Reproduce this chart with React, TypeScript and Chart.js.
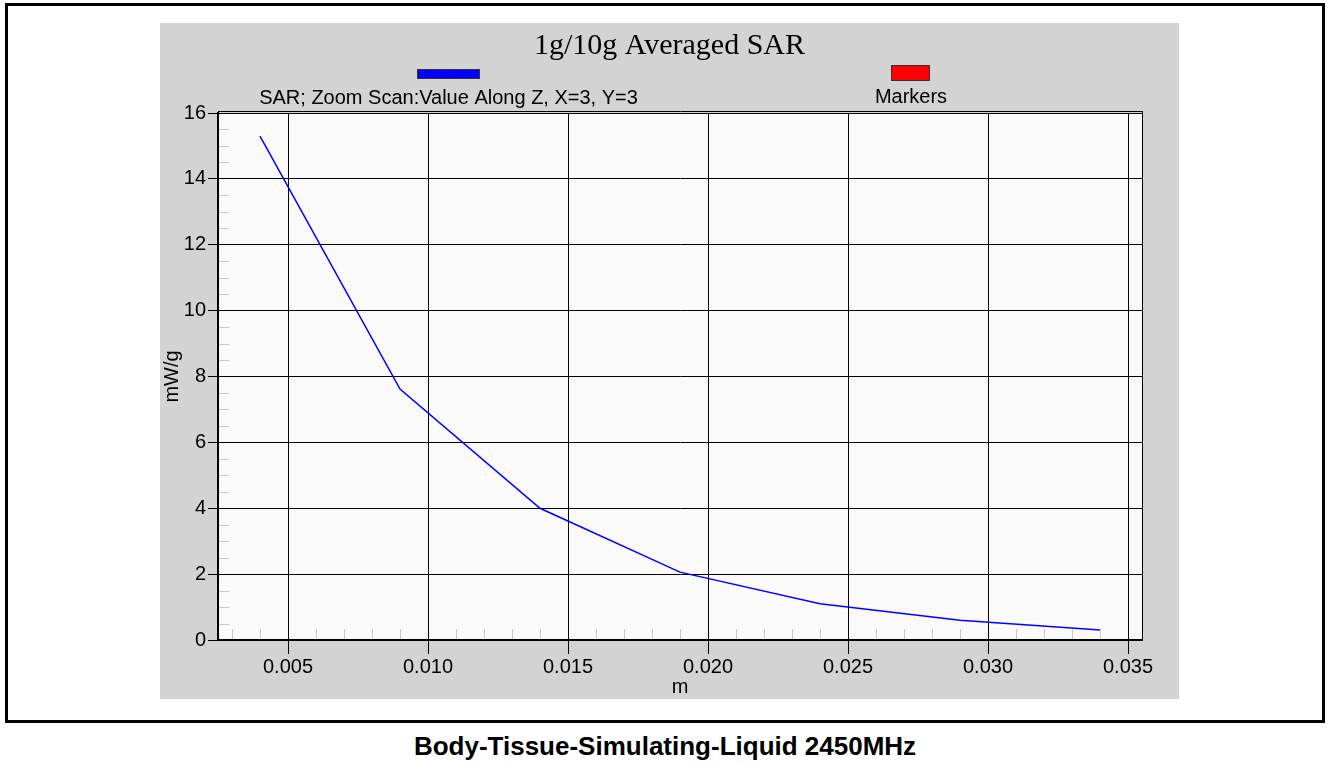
import React, { useEffect, useRef } from "react";
import { Chart, registerables } from "chart.js";

Chart.register(...registerables);

// ---- data ----
const depthValues = [0.004, 0.009, 0.014, 0.019, 0.024, 0.029, 0.034];
const sarValues = [15.3, 7.62, 4.0, 2.06, 1.1, 0.6, 0.3];
const xTickValues = [0.005, 0.01, 0.015, 0.02, 0.025, 0.03, 0.035];
const yTickValues = [0, 2, 4, 6, 8, 10, 12, 14, 16];
const chartTitle = "1g/10g Averaged SAR";
const seriesLabel = "SAR; Zoom Scan:Value Along Z, X=3, Y=3";
const markersLabel = "Markers";
const xAxisTitle = "m";
const yAxisTitle = "mW/g";
const caption = "Body-Tissue-Simulating-Liquid 2450MHz";

const SANS = "'Liberation Sans', Arial, sans-serif";
const SERIF = "'Liberation Serif', 'Times New Roman', serif";

const decorPlugin = {
  id: "decor",
  beforeDraw(chart: any) {
    const { ctx, width, height, chartArea: a } = chart;
    ctx.save();
    ctx.fillStyle = "#d3d3d3";
    ctx.fillRect(0, 0, width, height);
    ctx.fillStyle = "#fafafa";
    ctx.fillRect(a.left, a.top, a.right - a.left, a.bottom - a.top);
    ctx.restore();
  },
  beforeDatasetsDraw(chart: any) {
    const { ctx, chartArea: a } = chart;
    const xs = chart.scales.x;
    const ys = chart.scales.y;
    ctx.save();
    ctx.strokeStyle = "#c8c8c8";
    ctx.lineWidth = 1;
    ctx.beginPath();
    for (let i = 1; i < 1000; i++) {
      const v = i * 0.001;
      if (v > xs.max) break;
      if (v < xs.min || i % 5 === 0) continue;
      const px = Math.round(xs.getPixelForValue(v)) + 0.5;
      ctx.moveTo(px, a.bottom - 1);
      ctx.lineTo(px, a.bottom - 11);
    }
    for (let i = 1; i < 1000; i++) {
      const v = i * 0.5;
      if (v >= ys.max) break;
      if (i % 4 === 0) continue;
      const py = Math.round(ys.getPixelForValue(v)) + 0.5;
      ctx.moveTo(a.left + 1, py);
      ctx.lineTo(a.left + 11, py);
    }
    ctx.stroke();
    ctx.restore();
  },
  afterDraw(chart: any) {
    const { ctx, width, chartArea: a } = chart;
    ctx.save();
    // top / right frame
    ctx.strokeStyle = "#000";
    ctx.lineWidth = 1;
    ctx.beginPath();
    ctx.moveTo(a.left, Math.round(a.top) - 1.5);
    ctx.lineTo(a.right + 1, Math.round(a.top) - 1.5);
    ctx.moveTo(a.left, Math.round(a.top) + 0.5);
    ctx.lineTo(a.right + 1, Math.round(a.top) + 0.5);
    ctx.moveTo(Math.round(a.right) + 0.5, a.top - 2);
    ctx.lineTo(Math.round(a.right) + 0.5, a.bottom);
    ctx.stroke();

    // title
    ctx.fillStyle = "#000";
    ctx.font = `30px ${SERIF}`;
    ctx.textAlign = "center";
    ctx.textBaseline = "alphabetic";
    ctx.fillText(chartTitle, width / 2, 31);

    // legend
    ctx.fillStyle = "#0000ff";
    ctx.fillRect(257, 46, 63, 10);
    ctx.strokeStyle = "#333";
    ctx.strokeRect(257.5, 46.5, 62, 9);
    ctx.fillStyle = "#ff0000";
    ctx.fillRect(731, 42, 39, 16);
    ctx.strokeRect(731.5, 42.5, 38, 15);

    ctx.fillStyle = "#000";
    ctx.font = `20px ${SANS}`;
    ctx.fillText(seriesLabel, 288.5, 81);
    ctx.fillText(markersLabel, 751, 80);
    ctx.restore();
  },
};

export default function App() {
  const ref = useRef<HTMLCanvasElement>(null);

  useEffect(() => {
    const chart = new Chart(ref.current as HTMLCanvasElement, {
      type: "line",
      data: {
        datasets: [
          {
            label: seriesLabel,
            data: depthValues.map((x, i) => ({ x, y: sarValues[i] })),
            borderColor: "#0000ff",
            borderWidth: 1.5,
            pointRadius: 0,
            tension: 0,
            fill: false,
          },
        ],
      },
      options: {
        responsive: false,
        animation: false,
        devicePixelRatio: 1,
        layout: { padding: { top: 90, right: 37, left: 0, bottom: 0 } },
        plugins: {
          legend: { display: false },
          title: { display: false },
          tooltip: { enabled: false },
        },
        scales: {
          x: {
            type: "linear",
            min: 0.0025,
            max: 0.0355,
            afterBuildTicks: (s: any) => {
              s.ticks = xTickValues.map((v) => ({ value: v }));
            },
            afterFit: (s: any) => {
              s.height = 59;
            },
            ticks: {
              color: "#000",
              font: { family: SANS, size: 20 },
              padding: 1,
              maxRotation: 0,
              autoSkip: false,
              callback: (v: any) => Number(v).toFixed(3),
            },
            grid: { color: "#000", lineWidth: 1, tickLength: 14, tickColor: "#000" },
            border: { display: true, color: "#000", width: 2 },
            title: {
              display: true,
              text: xAxisTitle,
              color: "#000",
              font: { family: SANS, size: 20 },
              padding: { top: -2, bottom: 0 },
            },
          },
          y: {
            type: "linear",
            min: 0,
            max: 16,
            afterBuildTicks: (s: any) => {
              s.ticks = yTickValues.map((v) => ({ value: v }));
            },
            afterFit: (s: any) => {
              s.width = 58;
            },
            ticks: {
              color: "#000",
              font: { family: SANS, size: 20 },
              padding: 2,
              autoSkip: false,
            },
            grid: { color: "#000", lineWidth: 1, tickLength: 10, tickColor: "#000" },
            border: { display: true, color: "#000", width: 2 },
            title: {
              display: true,
              text: yAxisTitle,
              color: "#000",
              font: { family: SANS, size: 20 },
              padding: 0,
            },
          },
        },
      },
      plugins: [decorPlugin],
    } as any);
    return () => chart.destroy();
  }, []);

  return (
    <div
      style={{
        position: "absolute",
        left: 0,
        top: 0,
        width: 1330,
        height: 762,
        background: "#fff",
        overflow: "hidden",
      }}
    >
      <div
        style={{
          position: "absolute",
          left: 5,
          top: 3,
          width: 1320,
          height: 720,
          border: "3px solid #000",
          boxSizing: "border-box",
        }}
      />
      <div style={{ position: "absolute", left: 160, top: 23, width: 1019, height: 676 }}>
        <canvas ref={ref} width={1019} height={676} style={{ display: "block", width: 1019, height: 676 }} />
      </div>
      <div
        style={{
          position: "absolute",
          left: 0,
          top: 733,
          width: 1330,
          textAlign: "center",
          font: `bold 26px ${SANS}`,
          lineHeight: "26px",
          color: "#000",
        }}
      >
        {caption}
      </div>
    </div>
  );
}
